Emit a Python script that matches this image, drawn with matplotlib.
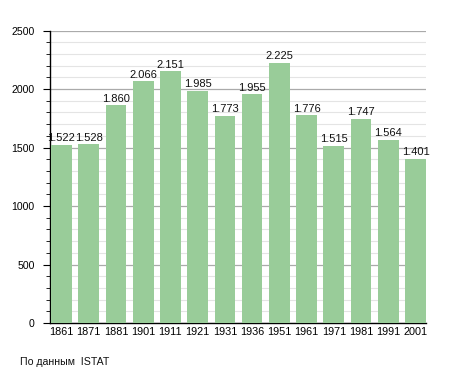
import matplotlib
matplotlib.use("Agg")
import matplotlib.pyplot as plt
from matplotlib.ticker import MultipleLocator

years = ["1861", "1871", "1881", "1901", "1911", "1921", "1931", "1936",
         "1951", "1961", "1971", "1981", "1991", "2001"]
population = [1522, 1528, 1860, 2066, 2151, 1985, 1773, 1955,
              2225, 1776, 1515, 1747, 1564, 1401]
source_note = "По данным  ISTAT"

plt.rcParams['font.family'] = ['Liberation Sans', 'DejaVu Sans']

fig = plt.figure(figsize=(4.55, 3.73), dpi=100)
ax = fig.add_axes([0.110, 0.134, 0.826, 0.784])

x = list(range(len(years)))
ax.bar(x, population, width=0.76, color='#99cc99', zorder=3)

for xi, v in zip(x, population):
    label = f"{v:,}".replace(",", ".")
    ax.text(xi, v + 15, label, ha='center', va='bottom', fontsize=8.0,
            color='#111111', zorder=4)

ax.set_xlim(-0.42, 13.38)
ax.set_ylim(0, 2500)
ax.set_xticks(x)
ax.set_xticklabels(years)
ax.yaxis.set_major_locator(MultipleLocator(500))
ax.yaxis.set_minor_locator(MultipleLocator(100))
ax.grid(axis='y', which='major', color='#aaaaaa', linewidth=0.9, zorder=0)
ax.grid(axis='y', which='minor', color='#e4e4e4', linewidth=0.8, zorder=0)

for s in ['top', 'right']:
    ax.spines[s].set_visible(False)
ax.spines['left'].set_color('#000000')
ax.spines['bottom'].set_color('#000000')
ax.spines['left'].set_linewidth(1.0)
ax.spines['bottom'].set_linewidth(1.0)
ax.tick_params(axis='x', length=0, labelsize=7.8, pad=3)
ax.tick_params(axis='y', which='major', length=5, labelsize=7.6, pad=6)
ax.tick_params(axis='y', which='minor', length=3)

fig.text(20 / 455, 1 - 362 / 373, source_note, fontsize=7.6, va='center',
         ha='left', color='#111111')

fig.savefig("out.png", dpi=100)
